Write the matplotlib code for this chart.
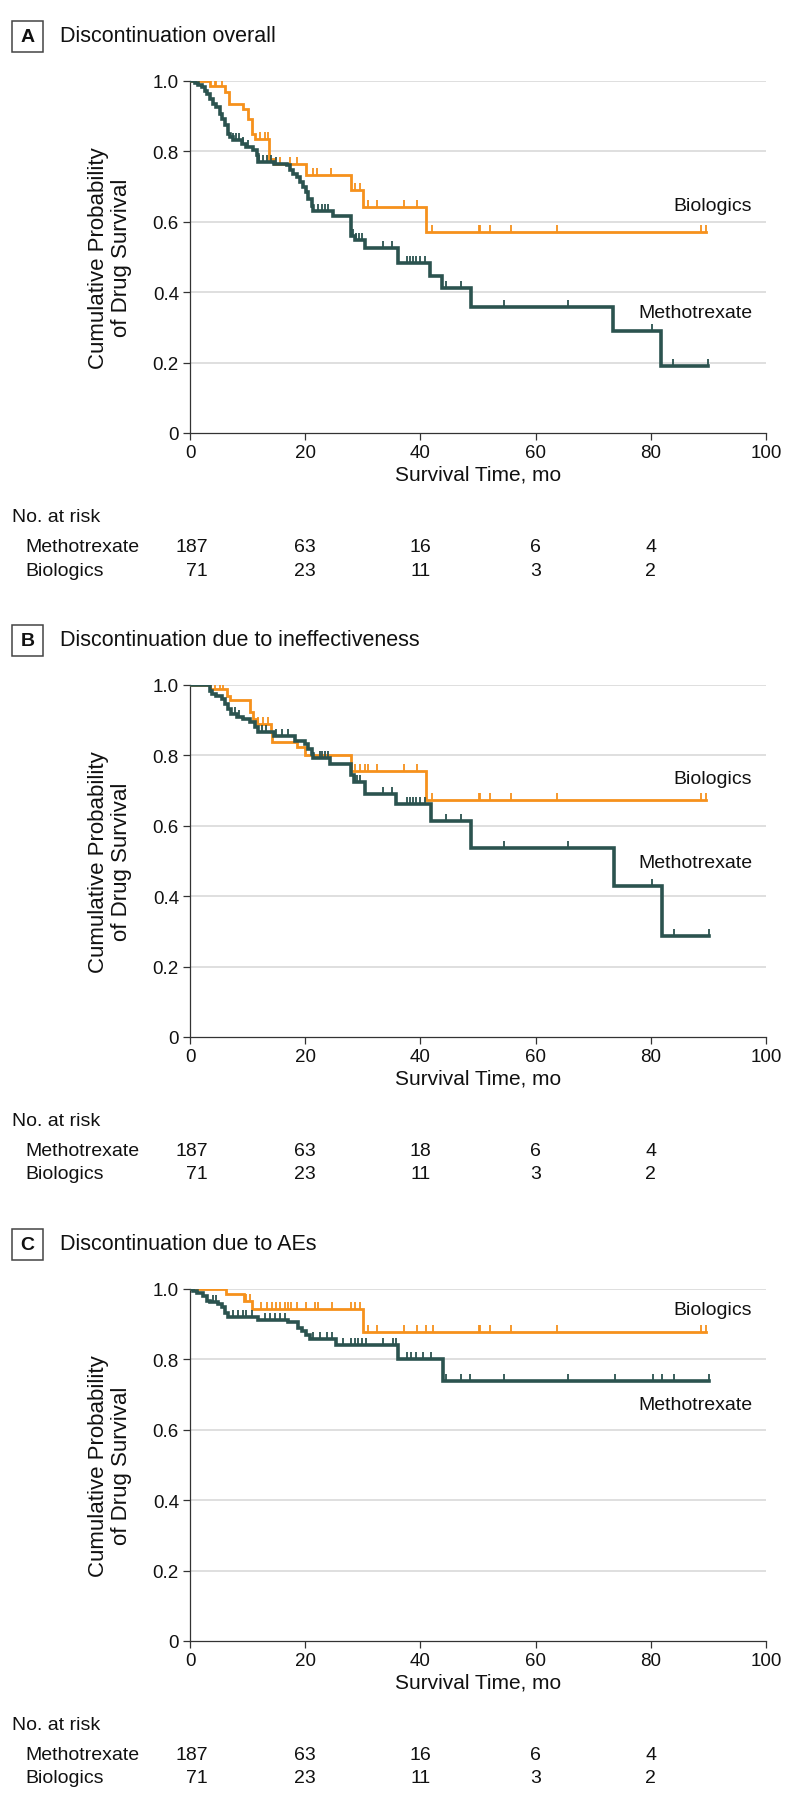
import numpy as np
import matplotlib
matplotlib.use("Agg")
import matplotlib.pyplot as plt
from matplotlib.patches import Rectangle
from matplotlib.transforms import blended_transform_factory

plt.rcParams['font.family'] = ['Liberation Sans', 'DejaVu Sans']

ORANGE = '#F6911C'
TEAL = '#2B534F'

panel_letters = ['A', 'B', 'C']
panel_titles = ['Discontinuation overall',
                'Discontinuation due to ineffectiveness',
                'Discontinuation due to AEs']

# Kaplan-Meier steps (event time, survival after the step)
# Panel A - overall
a_met_t = [0.9, 1.4, 2.0, 2.6, 2.9, 3.5, 4.0, 4.6, 5.2, 5.5, 6.1, 6.6, 6.9, 7.5, 9.0, 9.8,
           11.0, 11.6, 11.8, 14.5, 16.8, 17.3, 17.9, 18.5, 19.1, 19.7, 20.2, 20.5, 21.1, 21.4,
           24.9, 28.0, 28.6, 30.3, 36.1, 41.7, 43.8, 48.7, 73.4, 81.8]
a_met_s = [0.995, 0.988, 0.983, 0.973, 0.964, 0.950, 0.936, 0.926, 0.907, 0.893, 0.874, 0.850,
           0.841, 0.831, 0.822, 0.812, 0.803, 0.789, 0.770, 0.765, 0.760, 0.746, 0.736, 0.727,
           0.713, 0.699, 0.684, 0.665, 0.646, 0.632, 0.617, 0.561, 0.548, 0.525, 0.483, 0.447,
           0.411, 0.359, 0.289, 0.190]
a_met_cens = [7.5, 8.0, 8.5, 9.2, 10.1, 12.0, 12.7, 13.4, 14.0, 15.0, 22.3, 22.9, 23.4, 24.0,
              28.3, 28.8, 29.3, 29.8, 33.5, 35.0, 37.6, 38.2, 38.7, 39.3, 39.9, 40.8, 44.5,
              47.1, 54.6, 65.7, 80.2, 83.9, 90.0]
a_bio_t = [3.4, 6.1, 6.8, 9.2, 10.1, 10.7, 11.3, 13.8, 14.5, 20.1, 28.0, 30.1, 40.9]
a_bio_s = [0.986, 0.969, 0.936, 0.921, 0.893, 0.850, 0.836, 0.779, 0.765, 0.732, 0.689, 0.642, 0.571]
a_bio_cens = [3.1, 4.3, 4.6, 5.5, 12.1, 13.0, 13.6, 15.6, 17.3, 18.5, 21.4, 22.0, 24.5, 28.6,
              29.5, 30.9, 32.4, 37.1, 39.4, 42.1, 50.2, 50.4, 52.0, 55.8, 63.8, 88.8, 89.6]

# Panel B - ineffectiveness
b_met_t = [3.5, 3.8, 4.6, 5.5, 6.1, 6.6, 7.2, 8.1, 9.2, 10.4, 11.3, 11.8, 14.5, 18.2, 19.9,
           20.5, 21.1, 21.4, 24.3, 28.0, 28.4, 30.3, 35.8, 41.9, 48.8, 73.6, 81.9]
b_met_s = [0.984, 0.974, 0.970, 0.960, 0.946, 0.932, 0.918, 0.908, 0.904, 0.894, 0.880, 0.866,
           0.856, 0.842, 0.833, 0.819, 0.804, 0.792, 0.776, 0.743, 0.724, 0.691, 0.663, 0.613,
           0.538, 0.428, 0.286]
b_met_cens = [0.9, 1.4, 2.6, 7.8, 8.5, 12.5, 13.2, 15.0, 16.0, 17.0, 22.5, 23.0, 23.5, 24.0,
              28.6, 29.0, 29.5, 33.5, 35.0, 37.6, 38.2, 38.7, 39.3, 39.9, 40.8, 44.5, 47.1,
              54.6, 65.7, 80.2, 84.1, 90.1]
b_bio_t = [3.5, 6.4, 6.9, 10.4, 11.0, 11.6, 14.0, 14.3, 18.5, 19.9, 28.0, 41.0]
b_bio_s = [0.989, 0.970, 0.956, 0.922, 0.904, 0.889, 0.866, 0.837, 0.823, 0.800, 0.757, 0.672]
b_bio_cens = [4.3, 5.2, 5.8, 11.8, 12.7, 13.6, 28.6, 29.5, 30.3, 30.9, 32.4, 37.1, 39.4, 42.1,
              50.2, 50.4, 52.0, 55.8, 63.8, 88.8, 89.6]

# Panel C - adverse events
c_met_t = [0.6, 1.2, 2.3, 2.9, 3.5, 4.9, 5.5, 6.1, 6.6, 11.8, 17.1, 18.8, 19.4, 20.2, 20.8,
           25.4, 36.1, 43.9]
c_met_s = [0.995, 0.990, 0.981, 0.967, 0.962, 0.957, 0.948, 0.933, 0.921, 0.912, 0.905, 0.890,
           0.881, 0.869, 0.857, 0.840, 0.802, 0.738]
c_met_cens = [4.0, 4.6, 7.5, 8.4, 9.2, 9.8, 10.7, 13.0, 13.9, 14.7, 15.6, 16.5, 21.4, 22.5,
              23.7, 24.6, 26.6, 28.0, 28.6, 29.2, 29.8, 30.6, 33.5, 35.3, 35.8, 37.6, 38.4,
              39.3, 40.5, 41.9, 44.5, 47.1, 48.6, 54.6, 65.7, 73.7, 80.3, 81.9, 84.1, 90.1]
c_bio_t = [6.2, 9.4, 10.7, 30.1]
c_bio_s = [0.986, 0.967, 0.943, 0.878]
c_bio_cens = [3.2, 3.8, 4.1, 5.2, 5.8, 9.8, 10.4, 12.4, 13.3, 14.2, 15.0, 15.6, 16.5, 17.1,
              17.6, 18.5, 20.2, 21.7, 22.3, 24.6, 28.0, 28.6, 29.5, 30.9, 32.4, 37.1, 39.4,
              41.0, 42.2, 50.2, 50.4, 52.0, 55.8, 63.8, 88.8, 89.6]

# numbers at risk
risk_times = [0, 20, 40, 60, 80]
a_risk_met = [187, 63, 16, 6, 4]
a_risk_bio = [71, 23, 11, 3, 2]
b_risk_met = [187, 63, 18, 6, 4]
b_risk_bio = [71, 23, 11, 3, 2]
c_risk_met = [187, 63, 16, 6, 4]
c_risk_bio = [71, 23, 11, 3, 2]

# curve label heights
label_y_bio = [0.647, 0.734, 0.943]
label_y_met = [0.342, 0.497, 0.672]

xticks = [0, 20, 40, 60, 80, 100]
yticks = [0, 0.2, 0.4, 0.6, 0.8, 1.0]
ytick_labels = ['0', '0.2', '0.4', '0.6', '0.8', '1.0']

panels = [
    (a_met_t, a_met_s, a_met_cens, a_bio_t, a_bio_s, a_bio_cens, a_risk_met, a_risk_bio),
    (b_met_t, b_met_s, b_met_cens, b_bio_t, b_bio_s, b_bio_cens, b_risk_met, b_risk_bio),
    (c_met_t, c_met_s, c_met_cens, c_bio_t, c_bio_s, c_bio_cens, c_risk_met, c_risk_bio),
]

W, H = 798, 1806
fig = plt.figure(figsize=(W / 100, H / 100), dpi=100)

# marker that sits above the point (censor tick)
cens_marker = [(0, 0), (0, 1)]


def km_curve(ax, t, s, cens, color, lw, z):
    end = max(cens)
    x = np.r_[0, t, end]
    y = np.r_[1.0, s, s[-1]]
    ax.plot(x, y, drawstyle='steps-post', color=color, lw=lw, zorder=z,
            solid_joinstyle='miter')
    lev = np.r_[1.0, s]
    cy = lev[np.searchsorted(t, cens, side='right')]
    ax.plot(cens, cy, ls='none', marker=cens_marker, markersize=9.5, color=color,
            markeredgewidth=1.3, zorder=z)


left_px, right_px = 190, 766
tops_px = [82, 686, 1290]
ax_h_px = 352

for i, (mt, ms, mc, bt, bs, bc, rm, rb) in enumerate(panels):
    top = tops_px[i]
    bottom = top + ax_h_px
    ax = fig.add_axes([left_px / W, 1 - bottom / H, (right_px - left_px) / W, ax_h_px / H])
    ax.set_xlim(0, 100)
    ax.set_ylim(0, 1.0)
    for g in yticks[1:]:
        ax.axhline(g, color='#d6d6d6', lw=1.1, zorder=0)
    km_curve(ax, bt, bs, bc, ORANGE, 2.0, 3)
    km_curve(ax, mt, ms, mc, TEAL, 2.6, 4)

    ax.text(97.6, label_y_bio[i], 'Biologics', ha='right', va='center', fontsize=14, color='#111')
    ax.text(97.6, label_y_met[i], 'Methotrexate', ha='right', va='center', fontsize=14, color='#111')

    for sp in ['top', 'right']:
        ax.spines[sp].set_visible(False)
    for sp in ['left', 'bottom']:
        ax.spines[sp].set_color('#333333')
        ax.spines[sp].set_linewidth(0.9)
    ax.set_xticks(xticks)
    ax.set_yticks(yticks)
    ax.set_yticklabels(ytick_labels)
    ax.tick_params(axis='both', direction='out', length=5, width=0.9, color='#333333',
                   labelsize=13.5, pad=3, labelcolor='#111')
    ax.set_xlabel('Survival Time, mo', fontsize=15, color='#111')
    ax.xaxis.set_label_coords(0.5, -41 / ax_h_px)
    ax.xaxis.label.set_va('center')
    ax.set_ylabel('Cumulative Probability\nof Drug Survival', fontsize=16, color='#111',
                  linespacing=1.1)
    ax.yaxis.set_label_coords((110 - left_px) / (right_px - left_px), 0.5)
    ax.yaxis.label.set_va('center')

    # panel header
    ty = top - 45
    fig.patches.append(Rectangle((12 / W, 1 - (ty + 15.5) / H), 31 / W, 31 / H,
                                 transform=fig.transFigure, fill=False,
                                 edgecolor='#444444', lw=1.1))
    fig.text(27.5 / W, 1 - ty / H, panel_letters[i], ha='center', va='center',
             fontsize=14, fontweight='bold', color='#111')
    fig.text(60 / W, 1 - ty / H, panel_titles[i], ha='left', va='center',
             fontsize=15.5, color='#111')

    # number at risk table
    tr = blended_transform_factory(ax.transData, fig.transFigure)
    fig.text(12 / W, 1 - (bottom + 84) / H, 'No. at risk', ha='left', va='center',
             fontsize=14, color='#111')
    for row, (name, vals) in enumerate([('Methotrexate', rm), ('Biologics', rb)]):
        yy = 1 - (bottom + 114 + row * 23) / H
        fig.text(25 / W, yy, name, ha='left', va='center', fontsize=14, color='#111')
        for j, (xt, v) in enumerate(zip(risk_times, vals)):
            if j == 0:
                ax.text(xt + 3.1, yy, str(v), ha='right', va='center', fontsize=14,
                        color='#111', transform=tr)
            else:
                ax.text(xt, yy, str(v), ha='center', va='center', fontsize=14,
                        color='#111', transform=tr)

fig.savefig('out.png', dpi=100, facecolor='white')
